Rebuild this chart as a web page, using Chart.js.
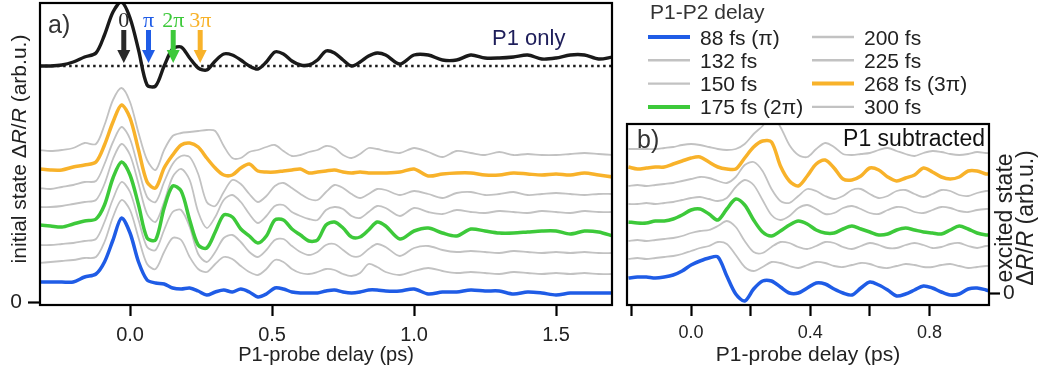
<!DOCTYPE html>
<html>
<head>
<meta charset="utf-8">
<script src="https://cdn.jsdelivr.net/npm/chart.js@4.4.1/dist/chart.umd.min.js"></script>
<style>
  body { margin: 0; background: #fff; }
  #wrap { position: relative; width: 1039px; height: 373px; }
  #chartA { position: absolute; left: 0; top: 0; }
  #chartB { position: absolute; left: 614px; top: 0; }
</style>
</head>
<body>
<div id="wrap">
  <canvas id="chartA" width="614" height="373"></canvas>
  <canvas id="chartB" width="425" height="373"></canvas>
</div>
<script>
// ---- data (stacked waterfall, arb. units) ----
const delays = ['88 fs (π)', '132 fs', '150 fs', '175 fs (2π)', '200 fs', '225 fs', '268 fs (3π)', '300 fs'];

// panel a: P1-probe delay (ps)
const timeA = [-0.32, -0.28, -0.24, -0.20, -0.16, -0.12, -0.09, -0.06, -0.03, 0.00,
  0.03, 0.06, 0.09, 0.12, 0.15, 0.18, 0.21, 0.24, 0.27, 0.30,
  0.33, 0.36, 0.39, 0.42, 0.45, 0.48, 0.51, 0.54, 0.57, 0.60,
  0.63, 0.66, 0.69, 0.72, 0.75, 0.78, 0.81, 0.84, 0.87, 0.90,
  0.95, 1.00, 1.05, 1.10, 1.15, 1.20, 1.25, 1.30, 1.35, 1.40,
  1.45, 1.50, 1.55, 1.60, 1.65, 1.70];

const p1Only = [236, 236, 237, 240, 245, 249, 267, 290, 300, 284,
  252, 217, 216, 236, 253, 255, 244, 234, 232, 241,
  248, 247, 242, 236, 233, 240, 250, 248, 241, 237,
  237, 242, 251, 249, 242, 236, 240, 246, 249, 247,
  238, 247, 247, 242, 242, 247, 244, 244, 245, 247,
  243, 244, 247, 247, 243, 245];
const p1Baseline = 236;

const a88 = [20, 20, 20, 20, 25, 28, 40, 62, 84, 69,
  40, 22, 19, 18, 14, 13, 14, 11, 7, 10,
  12, 10, 13, 10, 5, 8, 14, 13, 10, 9,
  9, 9, 11, 12, 10, 9, 10, 12, 12, 11,
  11, 13, 8, 10, 10, 12, 11, 11, 8, 10,
  9, 7, 9, 9, 9, 9];
const a132 = [39, 40, 41, 42, 44, 45, 60, 85, 102, 92,
  64, 38, 33, 50, 64, 62, 45, 33, 30, 38,
  45, 43, 36, 30, 27, 33, 42, 40, 33, 29,
  28, 30, 33, 32, 28, 26, 29, 38, 35, 30,
  27, 31, 34, 31, 29, 30, 29, 28, 30, 29,
  28, 29, 28, 29, 28, 28];
const a150 = [57, 57, 58, 59, 61, 63, 80, 103, 120, 110,
  82, 55, 52, 72, 90, 92, 75, 48, 40, 50,
  64, 67, 60, 50, 45, 52, 62, 63, 56, 50,
  47, 50, 57, 58, 52, 46, 46, 53, 58, 55,
  46, 54, 56, 52, 50, 51, 50, 49, 51, 50,
  49, 50, 49, 50, 49, 49];
const a175 = [77, 76, 75, 78, 81, 83, 97, 124, 140, 127,
  97, 64, 62, 94, 116, 111, 82, 57, 54, 70,
  87, 85, 73, 66, 59, 66, 82, 82, 73, 67,
  61, 62, 77, 80, 74, 65, 65, 72, 80, 76,
  63, 71, 74, 69, 66, 73, 71, 69, 69, 70,
  71, 71, 68, 71, 70, 66];
const a200 = [95, 95, 96, 98, 100, 102, 118, 143, 158, 147,
  118, 88, 80, 100, 125, 133, 122, 90, 74, 85,
  102, 107, 100, 88, 79, 86, 96, 97, 90, 86,
  83, 82, 92, 95, 93, 86, 84, 90, 96, 94,
  86, 94, 90, 88, 92, 90, 89, 91, 90, 89,
  91, 90, 89, 91, 90, 90];
const a225 = [114, 113, 115, 117, 120, 121, 138, 160, 175, 163,
  133, 105, 100, 120, 138, 146, 145, 128, 100, 96,
  110, 122, 118, 108, 100, 106, 116, 119, 114, 108,
  103, 102, 110, 117, 114, 108, 104, 108, 113, 112,
  107, 111, 108, 104, 109, 110, 107, 108, 110, 107,
  108, 109, 108, 107, 108, 108];
const a268 = [133, 132, 132, 135, 137, 140, 157, 180, 197, 184,
  152, 120, 114, 134, 147, 157, 159, 155, 144, 134,
  127, 127, 134, 138, 131, 130, 130, 131, 132, 133,
  129, 130, 131, 132, 130, 129, 130, 129, 129, 129,
  130, 133, 126, 128, 129, 129, 127, 127, 129, 128,
  127, 128, 127, 129, 127, 125];
const a300 = [152, 151, 152, 154, 159, 158, 177, 202, 214, 200,
  169, 142, 132, 152, 166, 169, 170, 171, 172, 171,
  156, 144, 144, 150, 152, 155, 157, 151, 146, 147,
  150, 152, 156, 154, 147, 144, 148, 154, 153, 151,
  149, 154, 150, 145, 151, 149, 147, 150, 147, 148,
  147, 147, 148, 149, 148, 147];

// panel b: P1 subtracted
const timeB = [-0.21, -0.18, -0.15, -0.12, -0.09, -0.06, -0.03, 0.00, 0.03, 0.06,
  0.09, 0.12, 0.15, 0.18, 0.21, 0.24, 0.27, 0.30, 0.33, 0.36,
  0.39, 0.42, 0.45, 0.48, 0.51, 0.54, 0.57, 0.60, 0.63, 0.66,
  0.69, 0.72, 0.75, 0.78, 0.81, 0.84, 0.87, 0.90, 0.93, 0.96,
  0.99, 1.00];

const b88 = [15, 16, 16, 15, 16, 18, 22, 28, 32, 35,
  36, 17, -1, -8, 4, 12, 12, 6, 0, 0,
  5, 10, 9, 4, 0, -2, 5, 11, 8, 3,
  -3, -1, 3, 7, 5, 1, -2, -1, 4, 5,
  3, 2];
const b132 = [34, 35, 34, 35, 36, 37, 39, 42, 45, 47,
  51, 49, 38, 26, 22, 26, 31, 30, 27, 25,
  28, 31, 30, 27, 26, 28, 30, 29, 26, 25,
  27, 29, 28, 26, 26, 28, 29, 27, 25, 26,
  27, 27];
const b150 = [52, 53, 52, 53, 54, 55, 57, 60, 62, 63,
  67, 72, 66, 52, 41, 40, 46, 51, 50, 46,
  44, 47, 51, 50, 46, 44, 47, 50, 48, 45,
  45, 48, 50, 48, 45, 46, 49, 50, 47, 45,
  47, 47];
const b175 = [71, 70, 70, 72, 72, 74, 78, 83, 84, 79,
  73, 84, 94, 88, 73, 61, 57, 62, 68, 72,
  69, 63, 60, 60, 64, 67, 64, 61, 58, 59,
  63, 65, 63, 61, 60, 59, 63, 67, 64, 60,
  58, 58];
const b200 = [89, 89, 90, 89, 90, 91, 93, 95, 96, 94,
  92, 95, 106, 113, 108, 93, 78, 73, 77, 85,
  88, 84, 79, 80, 85, 87, 84, 80, 79, 83,
  86, 85, 81, 80, 83, 86, 85, 82, 81, 83,
  84, 84];
const b225 = [107, 108, 107, 108, 109, 110, 112, 114, 116, 115,
  112, 110, 116, 128, 131, 122, 104, 92, 90, 97,
  104, 102, 97, 94, 97, 103, 104, 99, 95, 97,
  102, 103, 99, 96, 99, 103, 102, 98, 97, 100,
  102, 102];
const b268 = [126, 124, 125, 126, 126, 129, 132, 135, 136, 131,
  126, 124, 124, 135, 146, 152, 151, 127, 112, 107,
  117, 129, 133, 125, 114, 113, 117, 125, 123, 116,
  112, 115, 118, 125, 121, 116, 114, 116, 122, 122,
  119, 119];
const b300 = [144, 144, 144, 144, 145, 146, 148, 149, 148, 146,
  144, 143, 144, 149, 159, 167, 178, 166, 148, 138,
  136, 144, 150, 146, 139, 138, 139, 140, 143, 145,
  142, 139, 137, 140, 142, 141, 139, 138, 139, 141,
  140, 140];

const tracesA = [a88, a132, a150, a175, a200, a225, a268, a300];
const tracesB = [b88, b132, b150, b175, b200, b225, b268, b300];

const ticksA = [0, 0.5, 1.0, 1.5];
const ticksB = [-0.2, 0, 0.2, 0.4, 0.6, 0.8];
const labelledB = [0, 0.4, 0.8];

// arrows over the P1-only trace
const arrowTimes = [-0.022, 0.065, 0.152, 0.247];
const arrowNames = ['0', 'π', '2π', '3π'];

// ---- styles ----
const FONT = "'Liberation Sans', Arial, sans-serif";
const BLUE = '#1f5ce6', GREEN = '#3dc93a', ORANGE = '#f8b22a', GRAY = '#c2c2c2', BLACK = '#1a1a1a';
const delayColors = [BLUE, GRAY, GRAY, GREEN, GRAY, GRAY, ORANGE, GRAY];
const arrowColors = ['#2a2a2a', BLUE, GREEN, ORANGE];

Chart.defaults.font.family = FONT;
Chart.defaults.color = '#222';

function traceSets(times, traces) {
  return traces.map((vals, i) => ({
    label: delays[i],
    data: times.map((t, k) => ({ x: t, y: vals[k] })),
    borderColor: delayColors[i],
    borderWidth: delayColors[i] === GRAY ? 1.8 : 3.5,
    order: delayColors[i] === GRAY ? 2 : 1,
    pointRadius: 0,
    tension: 0.3
  }));
}

function drawRotated(ctx, parts, cx, cy, size) {
  ctx.save();
  ctx.translate(cx, cy);
  ctx.rotate(-Math.PI / 2);
  let total = 0;
  parts.forEach(p => {
    ctx.font = (p[1] ? 'italic ' : '') + size + 'px ' + FONT;
    total += ctx.measureText(p[0]).width;
  });
  let x = -total / 2;
  ctx.textAlign = 'left';
  ctx.textBaseline = 'middle';
  ctx.fillStyle = '#222';
  parts.forEach(p => {
    ctx.font = (p[1] ? 'italic ' : '') + size + 'px ' + FONT;
    ctx.fillText(p[0], x, 0);
    x += ctx.measureText(p[0]).width;
  });
  ctx.restore();
}

// black box round the plot area
const framePlugin = {
  id: 'frame',
  afterDatasetsDraw(chart) {
    const a = chart.chartArea;
    const ctx = chart.ctx;
    ctx.save();
    ctx.strokeStyle = '#000';
    ctx.lineWidth = 2.2;
    ctx.strokeRect(a.left, a.top, a.right - a.left, a.bottom - a.top);
    ctx.restore();
  }
};

function tickGrid(len) {
  return { drawOnChartArea: false, drawTicks: true, tickLength: len, tickWidth: 2.2, tickColor: '#000' };
}

// keep the plot area where I put it, no extra room for label overhang
function noOverhang(s) {
  s.paddingTop = 0; s.paddingBottom = 0; s.paddingLeft = 0; s.paddingRight = 0;
}

// ---------------- panel a ----------------
const decorA = {
  id: 'decorA',
  afterDraw(chart) {
    const ctx = chart.ctx;
    const xs = chart.scales.x, ys = chart.scales.y;
    ctx.save();
    ctx.fillStyle = '#333';
    ctx.font = '25px ' + FONT;
    ctx.textBaseline = 'alphabetic';
    ctx.fillText('a)', 48, 33);
    ctx.fillStyle = '#1e1e5a';
    ctx.font = '22px ' + FONT;
    ctx.fillText('P1 only', 492, 45);

    // arrows
    arrowTimes.forEach((t, i) => {
      const x = xs.getPixelForValue(t);
      const top = ys.getPixelForValue(272), tip = ys.getPixelForValue(239);
      const headTop = tip - 13;
      ctx.fillStyle = arrowColors[i];
      ctx.fillRect(x - 2.5, top, 5, headTop - top);
      ctx.beginPath();
      ctx.moveTo(x - 6.5, headTop);
      ctx.lineTo(x + 6.5, headTop);
      ctx.lineTo(x, tip);
      ctx.closePath();
      ctx.fill();
      ctx.font = '22px "Liberation Serif", "DejaVu Serif", serif';
      ctx.textAlign = 'center';
      ctx.textBaseline = 'alphabetic';
      ctx.fillText(arrowNames[i], x, ys.getPixelForValue(275));
    });
    ctx.restore();

    drawRotated(ctx, [['initial state Δ', false], ['R', true], ['/', false], ['R', true], [' (arb.u.)', false]], 20, 149, 21);
  }
};

const datasetsA = traceSets(timeA, tracesA);
datasetsA.push({
  label: 'P1 only',
  data: timeA.map((t, k) => ({ x: t, y: p1Only[k] })),
  borderColor: BLACK, borderWidth: 3.4, pointRadius: 0, tension: 0.3, order: 0
});
datasetsA.push({
  label: 'zero line',
  data: [{ x: timeA[0], y: p1Baseline }, { x: timeA[timeA.length - 1], y: p1Baseline }],
  borderColor: BLACK, borderWidth: 2.5, borderDash: [2.5, 3.5], pointRadius: 0, order: 3
});

new Chart(document.getElementById('chartA'), {
  type: 'line',
  data: { datasets: datasetsA },
  options: {
    responsive: false,
    animation: false,
    layout: { padding: { top: 3, right: 2, left: 0, bottom: 0 } },
    plugins: { legend: { display: false }, tooltip: { enabled: false } },
    scales: {
      x: {
        type: 'linear', min: -0.317, max: 1.697,
        afterBuildTicks: s => { s.ticks = ticksA.map(v => ({ value: v })); },
        afterFit: s => { s.height = 68; noOverhang(s); },
        grid: tickGrid(11),
        border: { display: false },
        ticks: { padding: 7, autoSkip: false, maxRotation: 0, font: { size: 20 }, callback: v => v.toFixed(1) },
        title: { display: true, text: 'P1-probe delay (ps)', font: { size: 20 }, padding: { top: 0, bottom: 6 } }
      },
      y: {
        type: 'linear', min: -3, max: 299,
        afterBuildTicks: s => { s.ticks = [{ value: 0 }]; },
        afterFit: s => { s.width = 40; noOverhang(s); },
        grid: tickGrid(12),
        border: { display: false },
        ticks: { padding: 6, font: { size: 21 } }
      }
    }
  },
  plugins: [framePlugin, decorA]
});

// ---------------- panel b ----------------
const decorB = {
  id: 'decorB',
  afterDraw(chart) {
    const ctx = chart.ctx;
    ctx.save();
    ctx.textBaseline = 'alphabetic';
    ctx.fillStyle = '#333';
    ctx.font = '25px ' + FONT;
    ctx.fillText('b)', 23, 148);
    ctx.fillStyle = '#111';
    ctx.font = '23px ' + FONT;
    ctx.textAlign = 'right';
    ctx.fillText('P1 subtracted', 371, 146);

    // legend, two columns
    ctx.textAlign = 'left';
    ctx.fillStyle = '#333';
    ctx.font = '21px ' + FONT;
    ctx.fillText('P1-P2 delay', 36, 19);
    chart.data.datasets.forEach((ds, i) => {
      const col = Math.floor(i / 4), row = i % 4;
      const lx = col ? 198 : 34;
      const ly = 37 + row * 23.3;
      ctx.strokeStyle = ds.borderColor;
      ctx.lineWidth = ds.borderColor === GRAY ? 2.4 : 4;
      ctx.beginPath();
      ctx.moveTo(lx, ly);
      ctx.lineTo(lx + 42, ly);
      ctx.stroke();
      ctx.fillStyle = '#222';
      ctx.fillText(ds.label, lx + 52, ly + 7.5);
    });
    ctx.restore();

    drawRotated(ctx, [['excited state', false]], 392, 218, 23);
    drawRotated(ctx, [['Δ', false], ['R', true], ['/', false], ['R', true], [' (arb.u.)', false]], 413, 218, 23);
  }
};

new Chart(document.getElementById('chartB'), {
  type: 'line',
  data: { datasets: traceSets(timeB, tracesB) },
  options: {
    responsive: false,
    animation: false,
    layout: { padding: { top: 124, right: 0, left: 13, bottom: 0 } },
    plugins: { legend: { display: false }, tooltip: { enabled: false } },
    scales: {
      x: {
        type: 'linear', min: -0.215, max: 1.0,
        afterBuildTicks: s => { s.ticks = ticksB.map(v => ({ value: v })); },
        afterFit: s => { s.height = 68; noOverhang(s); },
        grid: tickGrid(11),
        border: { display: false },
        ticks: {
          padding: 6, autoSkip: false, maxRotation: 0, font: { size: 18 },
          callback: v => labelledB.some(l => Math.abs(l - v) < 1e-6) ? v.toFixed(1) : ''
        },
        title: { display: true, text: 'P1-probe delay (ps)', font: { size: 21 }, padding: { top: 0, bottom: 5 } }
      },
      y: {
        type: 'linear', position: 'right', min: -12, max: 169,
        afterBuildTicks: s => { s.ticks = [{ value: 0 }]; },
        afterFit: s => { s.width = 50; noOverhang(s); },
        grid: tickGrid(11),
        border: { display: false },
        ticks: { padding: 3, font: { size: 21 } }
      }
    }
  },
  plugins: [framePlugin, decorB]
});
</script>
</body>
</html>
